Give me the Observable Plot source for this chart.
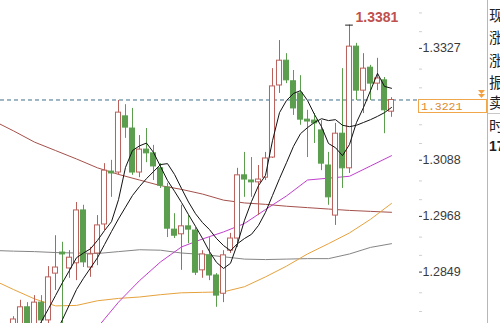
<!DOCTYPE html>
<html><head><meta charset="utf-8">
<script src="https://cdn.jsdelivr.net/npm/d3@7"></script>
<script src="https://cdn.jsdelivr.net/npm/@observablehq/plot@0.6"></script>
<style>
html,body{margin:0;padding:0;background:#fff;}
#wrap{position:relative;width:500px;height:323px;overflow:hidden;display:flex;}
#chart{width:487px;height:323px;}
#side{position:relative;width:12px;height:323px;border-left:1px solid #b8b8b8;overflow:hidden;font-family:"Noto Sans CJK SC",sans-serif;font-size:15px;color:#222;}
#side span{position:absolute;left:1px;white-space:nowrap;line-height:1;}
#side .sep{position:absolute;left:0;width:12px;height:1px;background:#c8c8c8;}
</style></head><body>
<div id="wrap"><div id="chart"></div><div id="side"></div></div>
<script>
// ---- candle data (daily OHLC) ----
const open  = [1.2724,1.2729,1.2778,1.2739,1.2788,1.2750,1.2850,1.2895,1.2861,1.2872,
               1.2985,1.2863,1.2893,1.2955,1.3068,1.3066,1.3186,1.3160,1.3066,1.3115,
               1.3107,1.3075,1.3034,1.2944,1.2934,1.2951,1.2942,1.2857,1.2889,1.2846,
               1.2807,1.2899,1.2925,1.3060,1.3049,1.3045,1.3055,1.3098,1.3252,1.3305,
               1.3261,1.3235,1.3179,1.3177,1.3156,1.3081,1.2974,1.3149,1.3075,1.3335,
               1.3241,1.3290,1.3256,1.3263,1.3196];
const close = [1.2752,1.2778,1.2739,1.2788,1.2750,1.2842,1.2863,1.2891,1.2884,1.2985,
               1.2874,1.2891,1.2953,1.3070,1.3064,1.3194,1.3162,1.3066,1.3115,1.3107,
               1.3079,1.3038,1.2946,1.2931,1.2951,1.2944,1.2852,1.2891,1.2846,1.2803,
               1.2889,1.2925,1.3060,1.3051,1.3045,1.3051,1.3096,1.3250,1.3305,1.3263,
               1.3203,1.3179,1.3175,1.3171,1.3085,1.3013,1.3149,1.3075,1.3335,1.3241,
               1.3288,1.3256,1.3267,1.3199,1.3221];
const high  = [1.2758,1.2793,1.2788,1.2803,1.2803,1.2865,1.2931,1.2917,1.2899,1.3002,
               1.2996,1.2906,1.2974,1.3085,1.3092,1.3220,1.3211,1.3203,1.3145,1.3160,
               1.3124,1.3085,1.3043,1.2978,1.2996,1.2974,1.2948,1.2899,1.2927,1.2850,
               1.2899,1.2936,1.3075,1.3109,1.3098,1.3081,1.3109,1.3288,1.3348,1.3320,
               1.3284,1.3273,1.3199,1.3192,1.3177,1.3109,1.3171,1.3288,1.3381,1.3342,
               1.3320,1.3295,1.3310,1.3269,1.3226];
const low   = [1.2711,1.2718,1.2724,1.2729,1.2743,1.2737,1.2814,1.2718,1.2840,1.2835,
               1.2863,1.2842,1.2867,1.2942,1.3013,1.3060,1.3139,1.3060,1.3055,1.3087,
               1.3049,1.3032,1.2927,1.2925,1.2857,1.2914,1.2846,1.2840,1.2835,1.2778,
               1.2788,1.2893,1.2906,1.3013,1.3013,1.2974,1.3049,1.3096,1.3235,1.3256,
               1.3188,1.3167,1.3098,1.3128,1.3070,1.2996,1.2953,1.3032,1.3064,1.3220,
               1.3192,1.3220,1.3241,1.3149,1.3184];

// ---- short moving averages, one value per candle ----
const ma5  = [null,null,null,1.2720,1.2748,1.2775,1.2803,1.2831,1.2857,1.2884,
              1.2894,1.2903,1.2921,1.2942,1.2961,1.3008,1.3077,1.3113,1.3123,1.3129,
              1.3109,1.3079,1.3049,1.3026,1.3002,1.2976,1.2951,1.2925,1.2897,1.2874,
              1.2861,1.2872,1.2914,1.2964,1.3004,1.3038,1.3060,1.3134,1.3194,1.3220,
              1.3235,1.3241,1.3220,1.3190,1.3164,1.3128,1.3119,1.3102,1.3126,1.3173,
              1.3205,1.3241,1.3278,1.3250,1.3246];
const ma10 = [null,null,null,null,null,null,1.2720,1.2752,1.2784,1.2816,
              1.2840,1.2862,1.2884,1.2912,1.2940,1.2967,1.2992,1.3017,1.3036,1.3053,
              1.3068,1.3083,1.3085,1.3062,1.3032,1.3003,1.2978,1.2959,1.2944,1.2925,
              1.2910,1.2899,1.2914,1.2925,1.2934,1.2953,1.2981,1.3017,1.3053,1.3087,
              1.3122,1.3149,1.3162,1.3173,1.3181,1.3177,1.3179,1.3167,1.3164,1.3167,
              1.3173,1.3179,1.3186,1.3194,1.3205];

// ---- long moving averages, read at every third candle ----
const knotIdx = [-2,0,3,6,9,12,15,18,21,24,27,30,33,36,39,42,45,48,51,54];
const ma30  = [null,null,null,null,null,1.2735,1.2789,1.2835,1.2875,1.2907,1.2924,1.2939,1.2957,1.2987,1.3016,1.3050,1.3054,1.3058,1.3080,1.3102];
const ma60  = [1.2830,1.2816,1.2796,1.2781,1.2782,1.2792,1.2797,1.2800,1.2805,1.2809,1.2810,1.2811,1.2822,1.2843,1.2866,1.2892,1.2914,1.2937,1.2966,1.3000];
const ma120 = [1.2899,1.2898,1.2897,1.2895,1.2894,1.2893,1.2897,1.2901,1.2900,1.2894,1.2891,1.2886,1.2881,1.2880,1.2881,1.2882,1.2882,1.2892,1.2906,1.2914];
const ma200 = [1.3170,1.3155,1.3131,1.3113,1.3095,1.3076,1.3062,1.3050,1.3038,1.3030,1.3020,1.3007,1.3001,1.2998,1.2994,1.2991,1.2988,1.2985,1.2983,1.2981];

// ---- axis ticks & labels ----
const majorTicks = [1.3327, 1.3088, 1.2968, 1.2849];
const minorTicks = [1.3407,1.3367,1.3287,1.3247,1.3168,1.3128,1.3048,1.3008,1.2928,1.2889,1.2809,1.2769];
const lastPrice = 1.3221;
const sideLabels = ["现价","涨跌","涨幅","振幅","卖出","时间","17:00"];

// ---- build ----
const RED = "#b9605b", GREEN = "#5a9e4e";
const candles = open.map((o, i) => ({i, open: o, close: close[i], high: high[i], low: low[i]}));
const up = candles.filter(d => d.close >= d.open);
const down = candles.filter(d => d.close < d.open);
const perCandle = arr => arr.map((v, i) => ({i, v})).filter(d => d.v != null);
const perKnot = arr => arr.map((v, j) => ({i: knotIdx[j], v})).filter(d => d.v != null);
const hiC = candles.reduce((a, b) => (b.high > a.high ? b : a));
const hw = 0.36;

const plot = Plot.plot({
  width: 487, height: 323,
  marginLeft: 0, marginRight: 69, marginTop: 0, marginBottom: 0,
  x: {domain: [-13/7, 405/7], axis: null},
  y: {domain: [1.27434, 1.34336], label: null},
  style: {background: "#fff", fontFamily: "'Liberation Sans', Arial, sans-serif"},
  marks: [
    Plot.ruleY([lastPrice], {stroke: "#3e6d8c", strokeDasharray: "4,3"}),
    Plot.line(perKnot(ma200), {x: "i", y: "v", stroke: "#a4504b", strokeWidth: 1}),
    Plot.line(perKnot(ma120), {x: "i", y: "v", stroke: "#858585", strokeWidth: 1}),
    Plot.line(perKnot(ma60), {x: "i", y: "v", stroke: "#e6a23c", strokeWidth: 1}),
    Plot.line(perKnot(ma30), {x: "i", y: "v", stroke: "#c23fcf", strokeWidth: 1}),
    Plot.ruleX(up, {x: "i", y1: "low", y2: "high", stroke: RED}),
    Plot.ruleX(down, {x: "i", y1: "low", y2: "high", stroke: GREEN}),
    Plot.rect(down, {x1: d => d.i - hw, x2: d => d.i + hw, y1: "open", y2: "close", fill: GREEN, stroke: GREEN}),
    Plot.rect(up, {x1: d => d.i - hw, x2: d => d.i + hw, y1: "open", y2: "close", fill: "#fff", stroke: RED}),
    Plot.line(perCandle(ma10), {x: "i", y: "v", stroke: "#111", strokeWidth: 1}),
    Plot.line(perCandle(ma5), {x: "i", y: "v", stroke: "#111", strokeWidth: 1}),
    Plot.ruleY([hiC], {y: "high", x1: d => d.i - 0.55, x2: d => d.i + 0.55, stroke: "#222"}),
    Plot.text([hiC], {x: "i", y: "high", text: d => d.high.toFixed(4), dx: 6, dy: -3, lineAnchor: "bottom",
      textAnchor: "start", fill: "#c0504d", fontWeight: "bold", fontSize: 14}),
    Plot.axisY(minorTicks, {anchor: "right", tickSize: 3, tickFormat: () => "", color: "#cfcfcf"}),
    Plot.axisY(majorTicks, {anchor: "right", tickSize: 3, tickPadding: 1, dy: -2, fontSize: 12.5,
      tickFormat: d => d.toFixed(4), color: "#3a3a3a"})
  ]
});
document.getElementById("chart").appendChild(plot);

// current price box
const svg = d3.select(plot);
const ty = Math.round(plot.scale("y").apply(lastPrice));
const g = svg.append("g");
g.append("rect").attr("x", 418.5).attr("y", ty + 0.5).attr("width", 68).attr("height", 13)
  .attr("fill", "#fff").attr("stroke", "#f0a64a");
g.append("text").attr("x", 421).attr("y", ty + 11).attr("text-anchor", "start").text(lastPrice.toFixed(4))
  .attr("fill", "#e0892a").attr("font-family", "'Liberation Mono', monospace").attr("font-size", 11.5);
g.append("path").attr("d", `M478,${ty-9}h7l-3.5,4z M478,${ty-5}h7l-3.5,4z`).attr("fill", "#f0a040");

// side panel
const side = document.getElementById("side");
const centers = [15, 37, 60, 82, 102, 125, 147];
sideLabels.forEach((t, k) => {
  const s = document.createElement("span");
  s.textContent = t;
  s.style.top = (centers[k] - 8) + "px";
  if (k === 6) { s.style.fontWeight = "bold"; s.style.fontFamily = "'Liberation Sans', Arial, sans-serif"; s.style.fontSize = "14px"; }
  side.appendChild(s);
});
const sep = document.createElement("div");
sep.className = "sep"; sep.style.top = "113px";
side.appendChild(sep);
</script>
</body></html>
